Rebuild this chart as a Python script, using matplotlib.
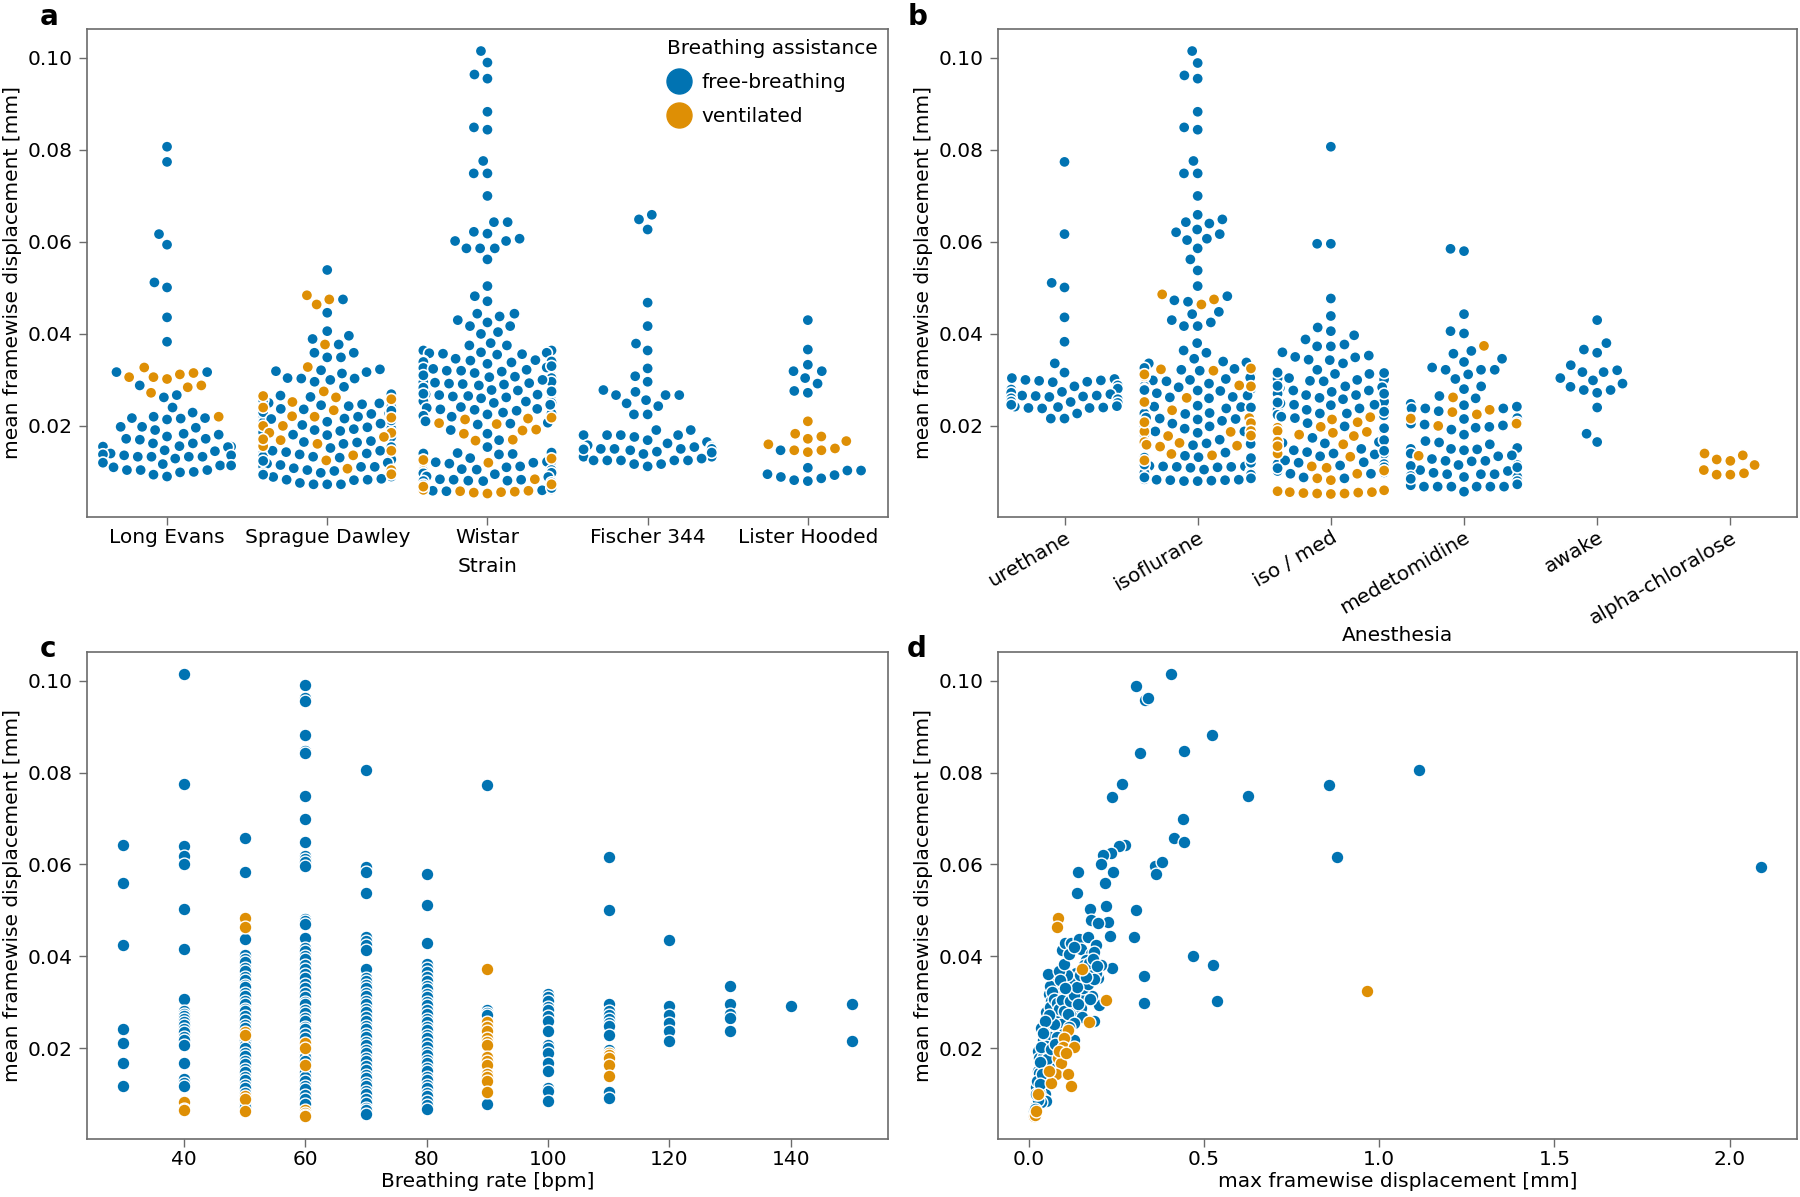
import numpy as np
import pandas as pd
import matplotlib
matplotlib.use("Agg")
import matplotlib.pyplot as plt
import seaborn as sns
from matplotlib.lines import Line2D

BLUE = "#0173b2"
ORANGE = "#de8f05"

# all mean framewise displacement values are in micrometres (1e-3 mm)

# ---- panel a: strain ----
strains = ["Long Evans", "Sprague Dawley", "Wistar", "Fischer 344", "Lister Hooded"]

le_free = [80.7, 77.4, 61.7, 59.4, 51.2, 50.1, 43.6, 38.3, 31.7, 31.7, 28.8, 26.7, 26.2, 24.0,
           22.9, 22.0, 21.7, 21.7, 21.6, 21.4, 19.8, 19.8, 19.6, 19.1, 18.3, 18.1, 17.7, 17.2,
           17.2, 17.0, 16.2, 16.2, 15.6, 15.5, 15.5, 15.4, 14.7, 14.5, 14.0, 13.8, 13.6, 13.6,
           13.3, 13.3, 13.3, 13.3, 12.9, 12.0, 11.7, 11.4, 11.4, 11.0, 10.4, 10.4, 10.4, 10.0,
           9.9, 9.4, 9.0]
le_vent = [32.7, 31.5, 31.2, 30.6, 30.6, 30.2, 28.8, 28.4, 27.2, 22.0]

sd_free = [53.9, 47.5, 44.6, 40.6, 39.6, 38.9, 37.7, 35.9, 35.9, 34.9, 34.9, 32.3, 32.1, 31.7,
           31.4, 31.9, 30.3, 30.3, 30.0, 30.4, 29.6, 28.5, 26.3, 26.3, 26.3, 26.3, 24.9, 24.5,
           24.1, 24.1, 23.4, 23.6, 22.7, 22.0, 22.0, 22.3, 21.6, 20.9, 20.7, 20.0, 19.4, 19.1,
           19.3, 18.5, 18.1, 17.6, 17.2, 16.5, 16.1, 15.7, 15.6, 14.6, 14.0, 14.0, 14.0, 14.0,
           13.3, 13.3, 12.9, 12.5, 12.7, 12.0, 11.1, 11.2, 11.1, 10.4, 9.8, 9.0, 8.3, 8.5, 8.3,
           8.2, 7.6, 7.3, 7.3, 7.3,
           26.6, 25.9, 25.0, 24.3, 23.7, 23.0, 22.4, 21.2, 20.5, 19.7, 18.9, 18.0, 17.3, 16.4,
           15.2, 14.3, 13.1, 11.8, 10.8, 9.7, 8.9, 26.9, 25.6, 24.7, 23.3, 22.6, 21.5, 20.2,
           19.4, 18.6, 17.6, 16.7, 15.4, 14.6, 13.8, 12.4, 11.5, 10.2, 9.4]
sd_vent = [48.4, 47.5, 46.4, 37.7, 32.8, 27.5, 26.2, 25.8, 25.2, 23.4, 22.0, 20.0, 20.0, 18.5,
           18.5, 17.6, 16.1, 15.6, 14.6, 12.5, 10.7, 10.4, 9.5, 24.0, 21.8, 16.9, 13.6, 26.5,
           22.1, 17.1]

wi_free = [101.5, 99.0, 96.4, 95.5, 88.3, 84.9, 84.4, 77.6, 74.9, 74.9, 70.0, 64.3, 64.3, 62.2,
           61.8, 60.7, 60.2, 60.2, 58.6, 58.6, 58.6, 56.2, 50.4, 48.2, 47.1, 44.4, 44.4, 43.8,
           43.0, 42.5, 41.7, 41.7, 40.4, 40.0, 38.0, 37.5, 37.5, 36.4, 36.4, 36.4,
           36.0, 35.8, 35.6, 35.9, 35.7, 35.5, 34.3, 34.1, 33.9, 34.0, 33.8, 32.6, 32.4, 32.2,
           32.0, 31.8, 30.8, 30.6, 30.4, 30.2, 30.0, 29.5, 29.3, 29.1, 29.4, 29.2, 28.1, 27.9,
           27.7, 27.8, 27.5, 26.9, 26.7, 26.5, 26.8, 26.4, 25.5, 25.3, 25.1, 25.0, 25.4, 24.1,
           23.9, 23.7, 23.5, 22.9, 22.7, 22.5, 20.7, 20.5, 20.3, 19.1, 18.3, 16.9, 15.4, 14.3,
           14.1, 13.9, 14.0, 13.8, 12.5, 12.3, 12.1, 12.2, 12.0, 11.2, 11.0, 10.6, 10.4, 10.2,
           9.7, 9.5, 9.6, 8.4, 8.3, 8.2, 8.1, 8.0, 8.3, 8.1, 7.5, 6.2, 6.0,
           34.6, 33.5, 32.7, 31.5, 30.7, 29.6, 28.8, 27.5, 26.2, 25.0, 23.6, 22.2, 21.0,
           34.2, 33.0, 32.0, 31.0, 30.0, 29.0, 28.3, 27.0, 26.0, 24.6, 23.3, 22.0,
           13.9, 13.0, 11.8, 9.8, 8.9, 7.7, 7.0, 6.4, 5.8, 14.2, 12.6, 10.5, 9.0, 8.0, 7.2,
           6.5, 5.9]
wi_vent = [21.8, 21.6, 21.4, 20.6, 20.4, 19.2, 19.0, 18.3, 17.0, 16.8, 12.4, 12.2, 12.0, 6.1,
           5.9, 5.8, 5.7, 5.6, 5.5, 5.3, 12.6, 7.3, 12.9, 8.4, 6.8]

fi_free = [65.9, 64.9, 62.7, 46.8, 41.7, 37.9, 36.4, 32.5, 30.8, 29.6, 27.8, 27.4, 26.7, 26.7,
           26.7, 25.6, 24.9, 24.3, 22.5, 22.5, 19.1, 19.1, 18.0, 18.0, 18.0, 18.0, 17.6, 16.9,
           16.5, 15.4, 15.4, 15.0, 15.0, 15.0, 15.0, 15.0, 15.0, 14.7, 14.0, 13.3, 13.3, 12.9,
           12.5, 12.5, 12.5, 12.5, 12.5, 11.7, 11.7, 11.2, 15.8, 15.2, 14.4, 13.9, 16.2, 14.9,
           14.2]
fi_vent = []

lh_free = [43.0, 36.6, 33.3, 31.9, 31.9, 30.4, 29.2, 27.6, 27.2, 14.7, 10.9, 10.3, 10.3, 9.5,
           8.9, 8.2, 8.0, 8.6, 9.3]
lh_vent = [21.0, 18.3, 17.7, 17.2, 16.7, 16.0, 15.1, 14.7, 14.3, 14.7]

# ---- panel b: anesthesia ----
anesthesia = ["urethane", "isoflurane", "iso / med", "medetomidine", "awake", "alpha-chloralose"]

ur_free = [77.4, 61.7, 51.1, 50.1, 43.6, 38.3, 33.6, 31.6, 30.4, 30.0, 29.8, 29.6, 29.5, 29.9,
           30.2, 27.8, 26.6, 26.4, 26.2, 26.5, 26.3, 26.1, 25.2, 24.2, 24.0, 23.9, 24.1, 23.8,
           22.7, 21.6, 21.6, 28.6, 27.9, 27.2, 26.6, 26.0, 25.3, 24.6, 23.9, 28.8, 28.1, 27.4,
           26.9, 25.8, 25.0, 24.3]
ur_vent = []

is_free = [101.5, 98.9, 96.2, 95.5, 88.3, 84.9, 84.4, 77.6, 74.9, 74.9, 70.0, 65.9, 64.9, 64.3,
           64.0, 62.7, 62.1, 61.7, 60.7, 60.4, 58.6, 56.2, 53.8, 50.4, 48.2, 47.3, 47.0, 44.8,
           44.3, 43.0, 42.5, 41.7, 41.7, 38.0, 36.4, 35.9, 34.6, 33.6,
           32.6, 32.4, 32.2, 32.0, 31.1, 30.9, 30.2, 30.0, 29.9, 29.7, 28.6, 28.4, 28.0, 27.8,
           27.7, 27.6, 26.2, 26.0, 24.4, 24.2, 24.1, 24.0, 22.7, 21.8, 21.6, 21.4, 20.5, 20.0,
           18.5, 18.8, 16.4, 16.2, 16.1, 13.5, 13.3, 13.2, 13.1, 13.4, 12.5, 11.3, 11.2, 11.1,
           11.0, 11.2, 11.3, 11.1, 10.1, 10.0, 9.9, 10.0, 9.8, 8.4, 8.3, 8.2, 8.1, 8.0, 8.2, 8.3,
           33.8, 31.0, 29.2, 28.0, 27.1, 26.3, 25.0, 23.8, 22.6, 21.5, 19.4, 18.1, 17.0, 15.8,
           13.2, 12.0, 10.9, 9.8, 8.8, 8.0,
           34.0, 30.5, 27.8, 26.6, 25.2, 24.0, 22.8, 21.1, 19.9, 18.8, 16.4, 14.2, 13.0, 11.6,
           10.5, 9.4, 8.6]
is_vent = [48.6, 47.5, 46.4, 32.3, 28.8, 26.1, 25.2, 23.4, 21.7, 20.6, 18.9, 18.8, 18.7, 17.9,
           17.8, 16.5, 16.3, 15.9, 15.7, 13.6, 12.5, 32.0, 30.8, 20.8, 13.9, 32.5, 31.2, 28.6,
           15.5]

im_free = [80.7, 59.6, 59.6, 47.7, 43.9, 41.4, 39.7, 40.6, 38.8, 37.3, 37.3, 37.7, 35.3, 34.9,
           33.6, 34.3, 34.4, 35.0, 36.0, 31.5, 30.4, 30.3, 29.8, 31.6, 32.2, 30.1, 31.3, 31.5,
           29.7, 28.6, 28.2, 27.7, 27.7, 28.4, 27.0, 26.7, 26.7, 26.7, 25.3, 24.6, 23.8, 23.5,
           23.8, 24.9, 25.3, 24.6, 22.7, 21.7, 22.3, 22.7, 19.9, 19.2, 19.6, 16.8, 16.5, 16.9,
           16.2, 14.3, 14.3, 14.0, 14.0, 14.7, 11.7, 11.7, 11.0, 11.4, 11.7, 12.0, 10.0, 10.2,
           9.9, 10.2,
           31.3, 30.0, 28.7, 27.4, 26.1, 25.1, 23.5, 22.4, 17.4, 16.3, 15.0, 13.8, 12.5, 9.6,
           8.8, 28.4, 27.0, 25.8, 24.5, 23.1, 22.0, 20.6, 19.5, 14.6, 13.4, 12.1, 10.8, 9.6,
           8.6]
im_vent = [21.4, 19.6, 18.8, 18.5, 18.1, 16.0, 13.3, 14.0, 10.9, 9.6, 8.2, 8.6, 6.0, 5.8, 5.6,
           5.5, 5.4, 5.3, 5.2, 5.3, 5.6, 21.9, 20.8, 19.8, 18.7, 11.2, 10.3, 18.9, 17.8, 16.6,
           15.6]

me_free = [58.5, 58.0, 44.3, 40.6, 40.1, 36.3, 35.7, 34.6, 33.9, 32.7, 32.2, 32.2, 32.2, 31.2,
           30.2, 28.6, 28.0, 26.5, 26.0, 24.8, 23.8, 23.8, 23.8, 21.7, 21.7, 21.7, 20.5, 19.8,
           20.1, 18.1, 16.7, 15.0, 15.0, 15.0, 15.0, 15.0, 15.0, 14.7, 13.4, 12.4, 11.5, 11.5,
           11.5, 11.5, 11.5, 12.4, 10.4, 9.5, 9.5, 9.5, 8.9, 8.9, 8.9, 7.8, 6.8, 6.8, 6.8, 6.8,
           6.8, 6.8, 5.7,
           24.2, 21.5, 20.3, 19.2, 16.4, 15.2, 14.0, 12.8, 11.3, 10.2, 9.1, 8.0, 7.1,
           24.5, 23.2, 20.8, 19.6, 16.0, 14.9, 13.6, 12.3, 11.0, 9.8, 8.5, 7.3]
me_vent = [37.4, 26.2, 23.5, 23.0, 20.5, 20.0, 22.5, 13.5, 21.6]

aw_free = [43.0, 38.0, 36.6, 35.9, 33.2, 32.1, 31.7, 31.7, 30.4, 29.9, 29.2, 28.5, 27.8, 27.2,
           27.8, 24.0, 18.3, 16.5]
aw_vent = []

ac_free = []
ac_vent = [14.0, 12.7, 12.4, 13.6, 11.5, 10.4, 9.4, 9.4, 9.7]

# ---- panel c: breathing rate [bpm] ----
rates = [30, 40, 50, 60, 70, 80, 90, 100, 110, 120, 130, 140, 150]
rate_free = [
    [64.3, 55.9, 42.5, 24.1, 21.0, 16.7, 11.8],
    [101.5, 77.5, 64.0, 61.9, 60.2, 50.3, 41.5, 30.8, 28.0, 27.4, 26.9, 26.3, 25.7, 25.1, 24.2,
     23.6, 22.5, 21.8, 20.6, 16.7, 13.2, 12.4, 11.8],
    [65.8, 58.3, 43.8, 40.3, 39.4, 38.7, 37.5, 36.8, 35.5, 34.9, 33.8, 33.2, 32.1, 31.4, 30.2,
     29.7, 28.5, 28.0, 26.9, 26.2, 25.0, 24.4, 22.4, 21.7, 20.6, 20.1, 19.0, 18.3, 17.2, 16.6,
     15.4, 14.8, 13.7, 13.1, 11.9, 11.4, 10.2, 8.7, 7.9, 7.2],
    [99.1, 96.2, 95.6, 88.3, 84.8, 84.2, 74.9, 69.9, 64.8, 61.9, 61.2, 60.5, 59.6, 48.2, 47.6,
     47.0, 44.0, 41.7, 41.1, 40.1, 39.4, 38.0, 37.2, 36.1, 35.3, 34.0, 33.1, 32.0, 31.2, 30.1,
     29.5, 28.4, 27.6, 26.5, 25.8, 24.7, 24.1, 23.0, 22.3, 19.3, 18.1, 17.1, 15.4, 14.7, 13.6,
     12.9, 11.8, 11.0, 9.8, 9.0, 7.9],
    [80.6, 59.4, 58.4, 53.8, 44.1, 43.3, 42.5, 41.3, 37.2, 35.3, 34.7, 33.7, 33.1, 32.0, 31.3,
     30.2, 29.5, 28.5, 27.8, 26.7, 26.0, 24.9, 24.2, 23.1, 22.5, 21.4, 20.7, 19.6, 18.9, 17.8,
     17.1, 16.0, 15.3, 14.2, 13.5, 12.4, 11.7, 10.6, 9.9, 8.8, 8.1, 7.0, 6.4, 5.6],
    [58.0, 51.1, 42.8, 38.4, 37.4, 36.5, 35.4, 34.7, 33.6, 32.9, 31.8, 31.1, 30.0, 29.3, 28.2,
     27.5, 26.4, 25.7, 24.6, 23.9, 22.8, 22.1, 21.0, 20.3, 19.2, 18.5, 17.4, 16.7, 15.6, 14.9,
     13.8, 13.1, 12.0, 11.3, 10.2, 9.5, 8.4, 7.7, 6.8],
    [77.3, 28.3, 27.7, 27.3, 7.8],
    [31.8, 31.1, 30.2, 28.9, 28.3, 27.0, 26.0, 23.7, 20.6, 20.0, 19.0, 16.7, 14.9, 11.3, 10.7,
     8.4],
    [61.6, 50.0, 29.5, 28.0, 27.2, 26.4, 25.4, 24.9, 22.9, 19.6, 10.4, 9.1],
    [43.5, 29.2, 27.2, 25.4, 23.7, 21.5],
    [33.6, 29.5, 27.5, 26.5, 23.7],
    [29.2],
    [29.5, 21.6],
]
rate_vent = [
    [], [8.2, 6.8, 6.4], [48.4, 46.3, 23.5, 22.9, 9.6, 9.0, 6.3],
    [21.2, 20.0, 16.4, 6.4, 5.9, 5.5, 5.1], [], [],
    [37.3, 25.6, 24.6, 23.8, 22.2, 21.3, 20.6, 18.1, 17.2, 16.3, 14.4, 13.6, 12.8, 10.5],
    [], [19.0, 18.4, 17.9, 16.3, 14.0], [], [], [], [],
]

# ---- panel d: max vs mean framewise displacement ----
d_free_max = [0.405, 0.307, 0.332, 0.340, 0.523, 0.319, 0.443, 0.266, 0.238, 0.627, 0.858, 0.880,
              1.114, 2.088, 0.439, 0.415, 0.443, 0.274, 0.257, 0.235, 0.211, 0.207, 0.240, 0.218,
              0.361, 0.362, 0.380, 0.142, 0.139, 0.305, 0.300, 0.176, 0.220, 0.177, 0.227, 0.199,
              0.232, 0.468, 0.526, 0.330, 0.330, 0.538, 0.201, 0.239, 0.206,
              0.095, 0.103, 0.120, 0.144, 0.168, 0.149, 0.192, 0.177, 0.187, 0.163, 0.199, 0.192,
              0.178, 0.135, 0.116, 0.078, 0.070, 0.097, 0.125, 0.141, 0.168, 0.182, 0.083, 0.057,
              0.064, 0.049, 0.097, 0.125, 0.144, 0.187, 0.068, 0.061, 0.085, 0.106, 0.035, 0.054,
              0.078, 0.040, 0.066, 0.087, 0.130, 0.026, 0.049, 0.070, 0.030, 0.038, 0.059, 0.026,
              0.032, 0.054, 0.021, 0.035, 0.046, 0.026, 0.040, 0.049, 0.021, 0.016, 0.035,
              0.074, 0.090, 0.105, 0.115, 0.135, 0.150, 0.160, 0.120, 0.135, 0.150, 0.110, 0.130,
              0.155, 0.060, 0.075, 0.092, 0.045, 0.060, 0.050, 0.042, 0.030, 0.045, 0.030, 0.110,
              0.155, 0.170,
              0.060, 0.066, 0.072, 0.080, 0.088, 0.094, 0.101, 0.112, 0.118, 0.128, 0.138, 0.146,
              0.158, 0.172, 0.183, 0.196, 0.186, 0.175, 0.152, 0.128, 0.115, 0.098, 0.082, 0.072,
              0.058, 0.048, 0.040, 0.036, 0.044, 0.052, 0.033, 0.025, 0.038, 0.028, 0.018, 0.022,
              0.032, 0.055, 0.088, 0.100, 0.115, 0.128, 0.090, 0.105, 0.140, 0.165, 0.063, 0.075]
d_free_mean = [101.5, 99.0, 95.8, 96.2, 88.2, 84.4, 84.8, 77.5, 74.8, 74.9, 77.4, 61.6,
               80.6, 59.4, 70.0, 65.8, 64.8, 64.3, 64.0, 62.5, 62.1, 60.2, 58.4, 56.0,
               59.6, 58.0, 60.6, 58.4, 53.8, 50.0, 44.2, 50.3, 50.9, 47.9, 47.5, 47.3,
               44.5, 40.0, 38.2, 35.8, 29.8, 30.2, 29.4, 37.5, 38.0,
               41.3, 42.8, 42.8, 43.8, 44.2, 41.5, 42.4, 40.6, 41.0, 39.1, 35.3, 36.4,
               37.2, 36.4, 35.3, 36.4, 35.0, 33.7, 32.6, 34.5, 31.8, 31.4, 31.4, 31.8,
               30.2, 27.9, 29.4, 28.7, 27.9, 26.0, 28.3, 26.0, 26.7, 26.7, 24.4, 24.0,
               23.6, 21.7, 21.3, 21.7, 21.7, 19.4, 19.0, 19.4, 17.9, 16.7, 15.9, 15.1,
               13.6, 13.6, 11.6, 11.6, 10.1, 9.3, 8.9, 8.5, 7.4, 6.2, 8.2,
               33.0, 32.0, 31.3, 31.7, 30.5, 30.0, 31.0, 29.0, 28.2, 28.8, 34.3, 34.8,
               35.6, 29.0, 27.2, 25.3, 23.0, 22.5, 20.5, 18.0, 14.5, 12.8, 10.5, 36.0,
               33.0, 34.0,
               33.5, 32.2, 30.8, 29.8, 28.5, 30.5, 28.0, 27.5, 30.2, 31.5, 33.2, 36.0,
               38.2, 38.6, 39.4, 37.8, 35.0, 30.8, 26.8, 25.5, 24.6, 23.0, 22.4, 25.2,
               27.2, 25.8, 23.3, 20.3, 16.8, 17.6, 17.0, 12.8, 14.3, 8.6, 6.8, 9.9,
               12.2, 36.2, 36.8, 38.4, 40.5, 42.0, 34.8, 33.0, 29.5, 35.5, 19.8, 20.8]
d_vent_max = [0.085, 0.080, 0.173, 0.220, 0.153, 0.964, 0.111, 0.102, 0.097, 0.085, 0.092, 0.078,
              0.111, 0.120, 0.130, 0.087, 0.106, 0.064, 0.059, 0.016, 0.019, 0.021, 0.026]
d_vent_mean = [48.4, 46.3, 25.6, 30.5, 37.3, 32.5, 24.0, 22.1, 20.2, 17.9, 16.7, 14.4,
               14.4, 11.8, 20.2, 19.4, 19.0, 12.4, 15.1, 5.1, 5.5, 6.2, 10.1]


def swarm_frame(groups, names):
    rows = []
    for name, (free, vent) in zip(names, groups):
        rows += [(name, v / 1000, "free-breathing") for v in free]
        rows += [(name, v / 1000, "ventilated") for v in vent]
    return pd.DataFrame(rows, columns=["group", "mean_fd", "breathing"])


plt.rcParams["font.family"] = "DejaVu Sans"
plt.rcParams["font.size"] = 14.5
plt.rcParams["axes.edgecolor"] = "#6b6b6b"
plt.rcParams["xtick.color"] = "#6b6b6b"
plt.rcParams["ytick.color"] = "#6b6b6b"
plt.rcParams["xtick.labelcolor"] = "black"
plt.rcParams["ytick.labelcolor"] = "black"

fig = plt.figure(figsize=(18, 11.97), dpi=100)
ax_a = fig.add_axes([0.0483, 0.5681, 0.445, 0.4077])
ax_b = fig.add_axes([0.5544, 0.5681, 0.4439, 0.4077])
ax_c = fig.add_axes([0.0483, 0.0485, 0.445, 0.4068])
ax_d = fig.add_axes([0.5544, 0.0485, 0.4439, 0.4068])

pal = {"free-breathing": BLUE, "ventilated": ORANGE}
YLIM = (0.0002, 0.1063)
YLABEL = "mean framewise displacement [mm]"
SWARM = dict(x="group", y="mean_fd", hue="breathing", hue_order=["free-breathing", "ventilated"],
             palette=pal, size=8.2, linewidth=1.2, edgecolor="white", legend=False)

df_a = swarm_frame([(le_free, le_vent), (sd_free, sd_vent), (wi_free, wi_vent),
                    (fi_free, fi_vent), (lh_free, lh_vent)], strains)
sns.swarmplot(data=df_a, order=strains, ax=ax_a, **SWARM)
ax_a.set_ylim(*YLIM)
ax_a.set_xlabel("Strain", labelpad=7)
ax_a.set_ylabel(YLABEL)
handles = [Line2D([], [], marker="o", ls="", color=BLUE, markersize=18),
           Line2D([], [], marker="o", ls="", color=ORANGE, markersize=18)]
ax_a.legend(handles, ["free-breathing", "ventilated"], title="Breathing assistance",
            loc="upper right", frameon=False, borderaxespad=0.1, handlelength=1.2,
            handletextpad=0.5, labelspacing=0.75, title_fontsize=14.5, alignment="left")

df_b = swarm_frame([(ur_free, ur_vent), (is_free, is_vent), (im_free, im_vent),
                    (me_free, me_vent), (aw_free, aw_vent), (ac_free, ac_vent)], anesthesia)
sns.swarmplot(data=df_b, order=anesthesia, ax=ax_b, **SWARM)
ax_b.set_ylim(*YLIM)
ax_b.set_xlabel("Anesthesia", labelpad=-1)
ax_b.set_ylabel(YLABEL)
plt.setp(ax_b.get_xticklabels(), rotation=30, ha="right", rotation_mode="anchor")

for rate, free in zip(rates, rate_free):
    ax_c.scatter([rate] * len(free), np.array(free) / 1000, s=85, color=BLUE,
                 edgecolor="white", linewidth=1.0, zorder=2)
for rate, vent in zip(rates, rate_vent):
    if vent:
        ax_c.scatter([rate] * len(vent), np.array(vent) / 1000, s=85, color=ORANGE,
                     edgecolor="white", linewidth=1.0, zorder=3)
ax_c.set_ylim(*YLIM)
ax_c.set_xticks([40, 60, 80, 100, 120, 140])
ax_c.set_xlabel("Breathing rate [bpm]", labelpad=2)
ax_c.set_ylabel(YLABEL)

ax_d.scatter(d_free_max, np.array(d_free_mean) / 1000, s=85, color=BLUE,
             edgecolor="white", linewidth=1.0, zorder=2)
ax_d.scatter(d_vent_max, np.array(d_vent_mean) / 1000, s=85, color=ORANGE,
             edgecolor="white", linewidth=1.0, zorder=3)
ax_d.set_ylim(*YLIM)
ax_d.set_xticks([0.0, 0.5, 1.0, 1.5, 2.0])
ax_d.set_xlabel("max framewise displacement [mm]", labelpad=2)
ax_d.set_ylabel(YLABEL)

for ax in (ax_a, ax_b, ax_c, ax_d):
    ax.set_yticks([0.02, 0.04, 0.06, 0.08, 0.10])
    ax.tick_params(axis="x", length=5.5, width=1, pad=2.5)
    ax.tick_params(axis="y", length=5.5, width=1, pad=5)
    for sp in ax.spines.values():
        sp.set_linewidth(1.2)

for letter, x, y in [("a", 0.022, 0.974), ("b", 0.504, 0.974),
                     ("c", 0.022, 0.446), ("d", 0.504, 0.446)]:
    fig.text(x, y, letter, fontsize=20, fontweight="bold", va="bottom")

fig.savefig("out.png", dpi=100)
